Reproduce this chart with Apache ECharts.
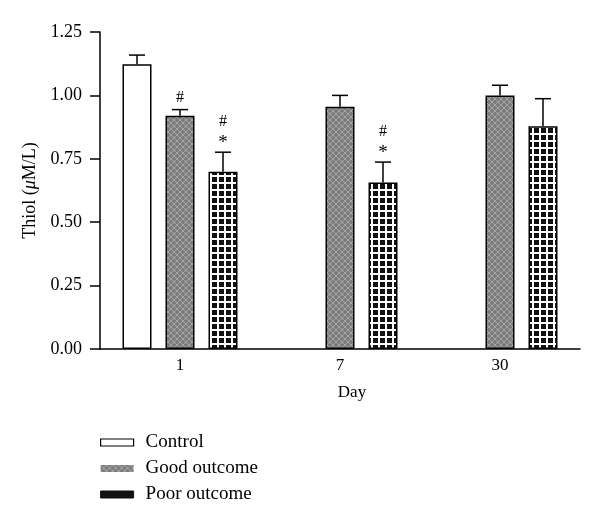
<!DOCTYPE html>
<html>
<head>
<meta charset="utf-8">
<script src="https://cdn.jsdelivr.net/npm/echarts@6/dist/echarts.min.js"></script>
<style>
  html, body { margin: 0; padding: 0; background: #fff; }
  #main { width: 600px; height: 525px; }
</style>
</head>
<body>
<div id="main"></div>
<script>
// data
var days = ['1', '7', '30'];
var seriesNames = ['Control', 'Good outcome', 'Poor outcome'];
var controlMean = [1.123, null, null];
var controlErr = [0.036, null, null];
var goodMean = [0.920, 0.955, 1.000];
var goodErr = [0.024, 0.045, 0.040];
var poorMean = [0.699, 0.657, 0.878];
var poorErr = [0.077, 0.080, 0.109];
var goodMarks = ['#', '', ''];
var poorMarks = ['#\n*', '#\n*', ''];
var yTicks = [0, 0.25, 0.5, 0.75, 1.0, 1.25];

var FONT = '"Liberation Serif", "Times New Roman", serif';
var BAR_W = 29, BAR_GAP = 14;

// gray cross hatch
function makeGood() {
  var c = document.createElement('canvas');
  c.width = 6; c.height = 6;
  var g = c.getContext('2d');
  g.fillStyle = '#7c7c7c';
  g.fillRect(0, 0, 6, 6);
  g.strokeStyle = '#a6a6a6';
  g.lineWidth = 1;
  g.beginPath();
  g.moveTo(0, 0); g.lineTo(6, 6);
  g.moveTo(6, 0); g.lineTo(0, 6);
  g.stroke();
  return c;
}
// black squares on white grid
function makePoor() {
  var c = document.createElement('canvas');
  c.width = 7; c.height = 7;
  var g = c.getContext('2d');
  g.fillStyle = '#fff';
  g.fillRect(0, 0, 7, 7);
  g.fillStyle = '#111';
  g.fillRect(2, 2, 5, 5);
  return c;
}

function errData(mean, err) {
  var out = [];
  for (var i = 0; i < mean.length; i++) {
    if (mean[i] == null) continue;
    out.push([i, mean[i], mean[i] + err[i]]);
  }
  return out;
}

function errRender(offset, marks) {
  return function (params, api) {
    var i = api.value(0);
    var x = api.coord([i, 0])[0] + offset;
    var yTop = api.coord([i, api.value(1)])[1];
    var yErr = api.coord([i, api.value(2)])[1];
    var kids = [
      { type: 'line', shape: { x1: x, y1: yTop, x2: x, y2: yErr }, style: { stroke: '#000', lineWidth: 1.5 } },
      { type: 'line', shape: { x1: x - 8, y1: yErr, x2: x + 8, y2: yErr }, style: { stroke: '#000', lineWidth: 1.5 } }
    ];
    if (marks && marks[i]) {
      var txt = marks[i].split('\n').map(function (m) {
        return m === '*' ? '{s|*}' : '{h|' + m + '}';
      }).join('\n');
      kids.push({
        type: 'text',
        style: {
          x: x, y: yErr - 3, text: txt, fill: '#000',
          align: 'center', verticalAlign: 'bottom',
          rich: {
            h: { fontFamily: FONT, fontSize: 16, lineHeight: 18, fill: '#000' },
            s: { fontFamily: FONT, fontSize: 19, lineHeight: 18, fill: '#000', padding: [6, 0, 0, 0] }
          }
        }
      });
    }
    return { type: 'group', children: kids };
  };
}

var step = BAR_W + BAR_GAP;
var myChart = echarts.init(document.getElementById('main'));
var option = {
  backgroundColor: '#fff',
  animation: false,
  textStyle: { fontFamily: FONT, color: '#000' },
  grid: { left: 100, right: 20, top: 32, bottom: 176 },
  legend: {
    data: [
      { name: seriesNames[0], itemStyle: { color: '#fff', borderColor: '#000', borderWidth: 1.2 } },
      { name: seriesNames[1], itemStyle: { borderWidth: 0 } },
      { name: seriesNames[2], itemStyle: { color: '#111', borderColor: '#111', borderWidth: 1 } }
    ],
    orient: 'vertical',
    left: 100,
    top: 433,
    padding: 0,
    icon: 'rect',
    itemWidth: 33,
    itemHeight: 7,
    itemGap: 7,
    textStyle: { fontFamily: FONT, fontSize: 19, color: '#000', padding: [0, 0, 0, 7] }
  },
  xAxis: {
    type: 'category',
    data: days,
    name: 'Day',
    nameLocation: 'middle',
    nameGap: 35,
    nameTextStyle: { fontFamily: FONT, fontSize: 17, color: '#000', padding: [0, 0, 0, 24] },
    axisLine: { lineStyle: { color: '#000', width: 1.5 } },
    axisTick: { show: false },
    axisLabel: { fontFamily: FONT, fontSize: 17, color: '#000', margin: 8 }
  },
  yAxis: {
    type: 'value',
    min: yTicks[0],
    max: yTicks[yTicks.length - 1],
    interval: 0.25,
    name: 'Thiol ({i|μ}M/L)',
    nameLocation: 'middle',
    nameGap: 56,
    nameTextStyle: {
      fontFamily: FONT, fontSize: 18, color: '#000',
      rich: { i: { fontFamily: FONT, fontSize: 18, fontStyle: 'italic', color: '#000' } }
    },
    splitLine: { show: false },
    axisLine: { show: true, lineStyle: { color: '#000', width: 1.5 } },
    axisTick: { show: true, length: 10, lineStyle: { color: '#000', width: 1.5 } },
    axisLabel: {
      fontFamily: FONT, fontSize: 18, color: '#000', margin: 18,
      formatter: function (v) { return v.toFixed(2); }
    }
  },
  series: [
    {
      name: 'Control', type: 'bar', data: controlMean,
      barWidth: BAR_W, barGap: (BAR_GAP / BAR_W * 100) + '%',
      itemStyle: { color: '#fff', borderColor: '#000', borderWidth: 1.5 }
    },
    {
      name: 'Good outcome', type: 'bar', data: goodMean,
      barWidth: BAR_W,
      itemStyle: { color: { image: makeGood(), repeat: 'repeat' }, borderColor: '#000', borderWidth: 1.5 }
    },
    {
      name: 'Poor outcome', type: 'bar', data: poorMean,
      barWidth: BAR_W,
      itemStyle: { color: { image: makePoor(), repeat: 'repeat' }, borderColor: '#000', borderWidth: 1.5 }
    },
    { name: 'errControl', type: 'custom', data: errData(controlMean, controlErr), renderItem: errRender(-step, null), z: 3 },
    { name: 'errGood', type: 'custom', data: errData(goodMean, goodErr), renderItem: errRender(0, goodMarks), z: 3 },
    { name: 'errPoor', type: 'custom', data: errData(poorMean, poorErr), renderItem: errRender(step, poorMarks), z: 3 }
  ]
};
myChart.setOption(option);
</script>
</body>
</html>
